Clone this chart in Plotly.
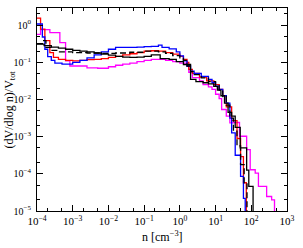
import plotly.graph_objects as go

# log10(n) bin edges and log10((dV/dlog n)/V_tot) values per series
edges_black = [-4.0,-3.8,-3.6,-3.4,-3.2,-3.0,-2.8,-2.6,-2.4,-2.2,-2.0,-1.8,-1.6,-1.4,-1.2,-1.0,-0.8,-0.55,-0.3,-0.1,0.1,0.3,0.45,0.65,0.8,0.95,1.05,1.15,1.25,1.35,1.45,1.55,1.69,1.87,1.93,2.05]
logv_black = [-0.51,-0.55,-0.59,-0.62,-0.65,-0.68,-0.70,-0.72,-0.75,-0.78,-0.81,-0.84,-0.86,-0.87,-0.86,-0.84,-0.80,-0.90,-0.92,-0.98,-1.06,-1.46,-1.52,-1.55,-1.58,-1.65,-1.75,-1.90,-2.10,-2.35,-2.45,-2.75,-3.30,-3.90,-4.34]

edges_dash = [-4.0,-3.85,-3.75,-3.6,-3.4,-3.0,-2.6,-2.2,-1.8,-1.4,-1.0,-0.6,-0.4,-0.2,0.0,0.1,0.2,0.3,0.4,0.6,0.8,1.0,1.1,1.2,1.3,1.4,1.5,1.6,1.7,1.8,1.88]
logv_dash = [-0.50,-0.42,-0.60,-0.68,-0.72,-0.74,-0.75,-0.76,-0.75,-0.73,-0.70,-0.72,-0.76,-0.82,-0.88,-0.95,-1.10,-1.25,-1.33,-1.42,-1.52,-1.62,-1.75,-1.92,-2.15,-2.50,-2.85,-3.25,-3.75,-4.24]

edges_red = [-4.0,-3.9,-3.78,-3.64,-3.54,-3.4,-3.2,-3.0,-2.8,-2.6,-2.4,-2.2,-2.0,-1.8,-1.6,-1.4,-1.2,-1.0,-0.8,-0.6,-0.4,-0.2,0.0,0.1,0.2,0.25,0.35,0.55,0.75,0.95,1.1,1.2,1.3,1.45,1.6,1.7,1.78,1.86]
logv_red = [0.19,-0.11,-0.42,-0.74,-0.87,-0.92,-0.95,-0.96,-0.95,-0.93,-0.92,-0.90,-0.87,-0.84,-0.80,-0.77,-0.74,-0.70,-0.69,-0.70,-0.74,-0.78,-0.84,-0.92,-1.00,-1.19,-1.30,-1.40,-1.50,-1.60,-1.73,-1.90,-2.20,-2.57,-3.05,-3.54,-4.24]

edges_blue = [-4.0,-3.85,-3.78,-3.7,-3.6,-3.5,-3.3,-3.0,-2.8,-2.6,-2.4,-2.2,-2.0,-1.8,-1.6,-1.4,-1.2,-1.0,-0.8,-0.6,-0.5,-0.3,-0.1,0.0,0.1,0.2,0.3,0.4,0.6,0.8,0.9,1.0,1.1,1.2,1.3,1.4,1.45,1.55,1.7,1.78,1.83]
logv_blue = [0.03,-0.32,-0.65,-0.85,-0.95,-1.02,-1.05,-1.00,-0.95,-0.88,-0.80,-0.72,-0.65,-0.60,-0.60,-0.60,-0.59,-0.58,-0.57,-0.54,-0.60,-0.64,-0.72,-0.83,-0.96,-1.10,-1.24,-1.30,-1.38,-1.46,-1.55,-1.64,-1.73,-1.90,-2.10,-2.50,-2.90,-3.50,-4.07,-4.66]

edges_mag = [-4.0,-3.9,-3.64,-3.36,-3.2,-3.08,-2.6,-2.3,-2.0,-1.8,-1.6,-1.4,-1.2,-1.0,-0.8,-0.6,-0.4,-0.2,0.0,0.2,0.25,0.35,0.55,0.65,0.8,0.9,1.0,1.1,1.17,1.3,1.4,1.5,1.67,1.87,1.97,2.11,2.2,2.43,2.57,2.65]
logv_mag = [-0.25,-0.12,-0.20,-0.47,-0.96,-1.10,-1.15,-1.16,-1.12,-1.08,-1.05,-1.02,-0.98,-0.95,-0.92,-0.92,-0.95,-0.98,-1.02,-1.10,-1.27,-1.41,-1.50,-1.60,-1.66,-1.73,-1.86,-1.98,-2.27,-2.45,-2.63,-2.62,-2.99,-3.35,-3.89,-3.98,-4.34,-4.61,-4.70]

x_tick_exp = [-4, -3, -2, -1, 0, 1, 2, 3]
y_tick_exp = [-5, -4, -3, -2, -1, 0]

FLOOR = 1e-9


def step_trace(edges, logv, color, dash="solid"):
    xs = [10 ** e for e in edges]
    ys = [10 ** v for v in logv] + [FLOOR]
    return go.Scatter(x=xs, y=ys, mode="lines", line_shape="hv",
                      line=dict(color=color, width=1.3, dash=dash),
                      showlegend=False, hoverinfo="skip")


def sup(e):
    return "10<sup>" + (str(e).replace("-", "\u2212")) + "</sup>"


fig = go.Figure()
fig.add_trace(step_trace(edges_mag, logv_mag, "#ff00ff"))
fig.add_trace(step_trace(edges_red, logv_red, "#ff0000"))
fig.add_trace(step_trace(edges_blue, logv_blue, "#0000ff"))
fig.add_trace(step_trace(edges_dash, logv_dash, "#000000", dash="6px,3px"))
fig.add_trace(step_trace(edges_black, logv_black, "#000000"))

font = dict(family="Liberation Serif, Times New Roman, serif", size=11, color="black")
yfont = dict(family="Liberation Serif, Times New Roman, serif", size=10, color="black")
title_font = dict(family="Liberation Serif, Times New Roman, serif", size=12, color="black")

axis_common = dict(type="log", showgrid=False, zeroline=False, showline=True,
                   linecolor="black", linewidth=1, mirror="allticks", automargin=False,
                   ticks="inside", ticklen=6, tickwidth=1, tickcolor="black",
                   minor=dict(ticks="inside", ticklen=3, tickwidth=0.8, tickcolor="black", showgrid=False))

fig.update_xaxes(**axis_common, range=[-4, 3], tickfont=font,
                 tickvals=[10 ** e for e in x_tick_exp],
                 ticktext=[sup(e) for e in x_tick_exp])
fig.update_yaxes(**axis_common, range=[-5, 0.46], tickfont=yfont, ticklabelstandoff=3,
                 tickvals=[10 ** e for e in y_tick_exp],
                 ticktext=[sup(e) for e in y_tick_exp])

fig.add_annotation(text="n [cm<sup>\u22123</sup>]", xref="paper", yref="paper",
                   x=0.5, y=0, xanchor="center", yanchor="middle", yshift=-25,
                   showarrow=False, font=title_font)
fig.add_annotation(text="(dV/dlog n)/V<sub>tot</sub>", xref="paper", yref="paper",
                   x=0, y=0.5, xanchor="center", yanchor="middle", xshift=-28,
                   textangle=-90, showarrow=False, font=title_font)

fig.update_layout(width=303, height=248, margin=dict(l=37, r=16, t=8, b=37),
                  plot_bgcolor="white", paper_bgcolor="white", font=font)

fig.write_html("out.html", config={"displayModeBar": False},
               post_script="document.body.style.margin='0';document.body.style.overflow='hidden';")
